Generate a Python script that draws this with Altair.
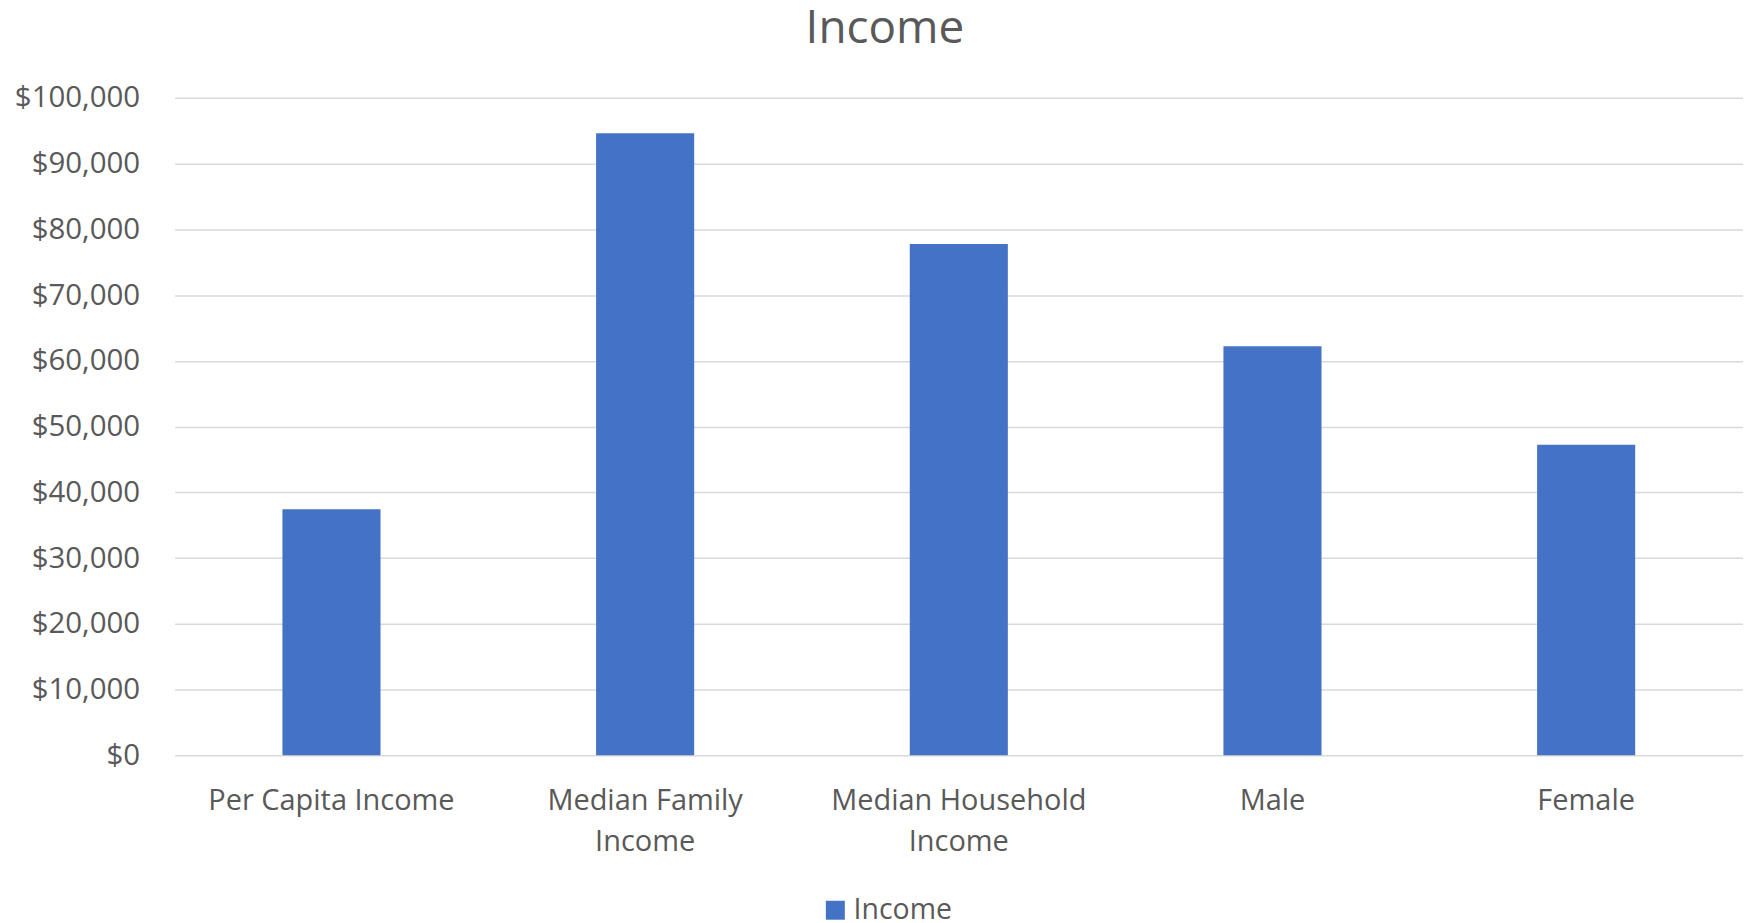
import altair as alt
import pandas as pd

categories = ["Per Capita Income", "Median Family Income", "Median Household Income", "Male", "Female"]
values = [37420, 94610, 77760, 62210, 47240]
series_name = "Income"
y_ticks = [0, 10000, 20000, 30000, 40000, 50000, 60000, 70000, 80000, 90000, 100000]

df = pd.DataFrame({"category": categories, "value": values, "series": [series_name] * len(categories)})

FONT = "Open Sans"
GREY = "#595959"

label_expr = (
    "datum.label == 'Median Family Income' ? ['Median Family', 'Income'] : "
    "datum.label == 'Median Household Income' ? ['Median Household', 'Income'] : datum.label"
)

chart = alt.Chart(df).mark_bar(color="#4472C4").encode(
    x=alt.X(
        "category:N",
        sort=categories,
        title=None,
        scale=alt.Scale(paddingInner=0.6873, paddingOuter=0.3437),
        axis=alt.Axis(
            labelAngle=0,
            labelExpr=label_expr,
            labelFont=FONT,
            labelFontSize=29,
            labelColor=GREY,
            labelPadding=31,
            labelLineHeight=41,
            labelBaseline="top",
            ticks=False,
            tickSize=0,
            domain=False,
            grid=False,
            labelLimit=400,
        ),
    ),
    y=alt.Y(
        "value:Q",
        title=None,
        scale=alt.Scale(domain=[0, 100000], nice=False),
        axis=alt.Axis(
            values=y_ticks,
            format="$,.0f",
            labelFont=FONT,
            labelFontSize=29.5,
            labelColor=GREY,
            labelPadding=35,
            ticks=False,
            tickSize=0,
            domain=False,
            grid=True,
            gridColor="#D9D9D9",
            gridWidth=1.5,
        ),
    ),
    color=alt.Color(
        "series:N",
        scale=alt.Scale(domain=[series_name], range=["#4472C4"]),
        legend=alt.Legend(
            title=None,
            orient="none",
            legendX=648,
            legendY=800,
            symbolType="square",
            symbolSize=361,
            symbolStrokeWidth=0,
            labelFont=FONT,
            labelFontSize=28.5,
            labelColor=GREY,
            labelOffset=4,
            padding=0,
        ),
    ),
).properties(
    width=1572,
    height=659,
    title=alt.TitleParams(
        text="Income",
        font=FONT,
        fontSize=46,
        fontWeight="normal",
        color=GREY,
        anchor="middle",
        offset=30,
        dx=-74,
    ),
    padding={"left": 167, "top": 89, "right": 0, "bottom": 175},
    autosize=alt.AutoSizeParams(type="none"),
).configure_view(stroke=None)

chart.save("out.html", embed_options={"renderer": "svg", "actions": False})
